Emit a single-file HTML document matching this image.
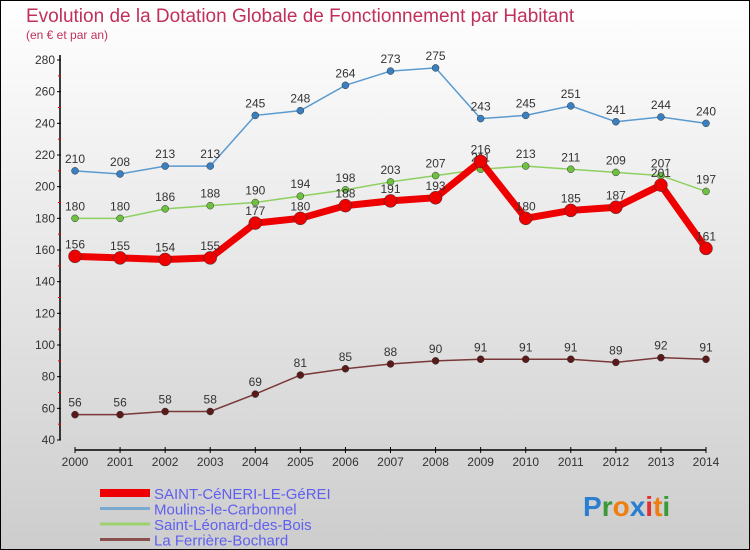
<!DOCTYPE html>
<html><head><meta charset="utf-8"><style>
body{margin:0}
#c{width:750px;height:550px;position:relative;box-sizing:border-box;border:1px solid #000;background:linear-gradient(#fff,#cdcdcd);font-family:"Liberation Sans",sans-serif;overflow:hidden}
</style></head><body>
<div id="c">
<svg id="s" width="750" height="550" style="position:absolute;left:-1px;top:-1px">
<text x="26" y="22" font-size="19" fill="#c0305a">Evolution de la Dotation Globale de Fonctionnement par Habitant</text>
<text x="26" y="39" font-size="12" fill="#c0305a">(en € et par an)</text>
<g id="axes"></g><g id="series"></g><g id="legend"></g>
<text x="583" y="516" font-size="28" font-weight="bold"><tspan fill="#2a7fd0">P</tspan><tspan fill="#3a9a3a">r</tspan><tspan fill="#f07d10">o</tspan><tspan fill="#2a7fd0">x</tspan><tspan fill="#e03030">i</tspan><tspan fill="#f07d10">t</tspan><tspan fill="#3a9a3a">i</tspan></text>
</svg>
</div>
<script>
const years=[2000,2001,2002,2003,2004,2005,2006,2007,2008,2009,2010,2011,2012,2013,2014];
const saint=[156,155,154,155,177,180,188,191,193,216,180,185,187,201,161];
const moulins=[210,208,213,213,245,248,264,273,275,243,245,251,241,244,240];
const leonard=[180,180,186,188,190,194,198,203,207,211,213,211,209,207,197];
const ferriere=[56,56,58,58,69,81,85,88,90,91,91,91,89,92,91];
const yTicks=[40,60,80,100,120,140,160,180,200,220,240,260,280];
const names=["SAINT-CéNERI-LE-GéREI","Moulins-le-Carbonnel","Saint-Léonard-des-Bois","La Ferrière-Bochard"];
const NS="http://www.w3.org/2000/svg";
const X=i=>75+i*(706-75)/14, Y=v=>440-(v-40)*380/240;
function mk(t,a,p){const e=document.createElementNS(NS,t);for(const k in a)e.setAttribute(k,a[k]);p.appendChild(e);return e;}
const ax=document.getElementById('axes');
const yl=mk('line',{x1:60,y1:55,x2:60,y2:440,stroke:'#000','stroke-width':1.5},ax);


const xl=mk('line',{x1:75,y1:450,x2:706,y2:450,stroke:'#000','stroke-width':1.5},ax);


yTicks.forEach((v,i)=>{mk('line',{x1:57,x2:61,y1:Y(v),y2:Y(v),stroke:'#000'},ax);
 if(i<yTicks.length-1)mk('line',{x1:58,x2:61,y1:Y(v+10),y2:Y(v+10),stroke:'#e00'},ax);
 const t=mk('text',{x:55,y:Y(v)+4,'font-size':12,'text-anchor':'end',fill:'#333'},ax);t.textContent=v;
 
 });
years.forEach((y,i)=>{mk('line',{x1:X(i),x2:X(i),y1:447,y2:453,stroke:'#000'},ax);
 const t=mk('text',{x:X(i),y:466,'font-size':12,'text-anchor':'middle',fill:'#333'},ax);t.textContent=y;
 
 });
const sg=document.getElementById('series');
const defs=[[ferriere,'#7a3838','#5a1a1a',1.5,3.5,'ferriere'],[leonard,'#8ed060','#6ec040',1.5,3.5,'leonard'],[moulins,'#5a9ad0','#3a80c0',1.5,3.5,'moulins'],[saint,'#ee0000','#ee0000',7,6.5,'saint-ceneri']];
defs.forEach(([d,lc,pc,w,r,n])=>{
 const p=mk('polyline',{points:d.map((v,i)=>X(i)+','+Y(v)).join(' '),fill:'none',stroke:lc,'stroke-width':w},sg);
 
 
 d.forEach((v,i)=>{const c=mk('circle',{cx:X(i),cy:Y(v),r:r,fill:pc,stroke:'#333','stroke-width':0.5},sg);
  
  
  const t=mk('text',{x:X(i),y:Y(v)-8,'font-size':12,'text-anchor':'middle',fill:'#333'},sg);t.textContent=v;
  
  });
});
const lg=document.getElementById('legend');
const lc=['#ee0000','#7aaad0','#9ed070','#8a5050'],lw=[8,3,3,3];
names.forEach((n,i)=>{const y=493+i*15.5;
 const l=mk('line',{x1:100,x2:150,y1:y,y2:y,stroke:lc[i],'stroke-width':lw[i]},lg);
 
 
 const t=mk('text',{x:154,y:y+6,'font-size':15,fill:'#6060f0'},lg);t.textContent=n;
 
 });
</script>
</body></html>
